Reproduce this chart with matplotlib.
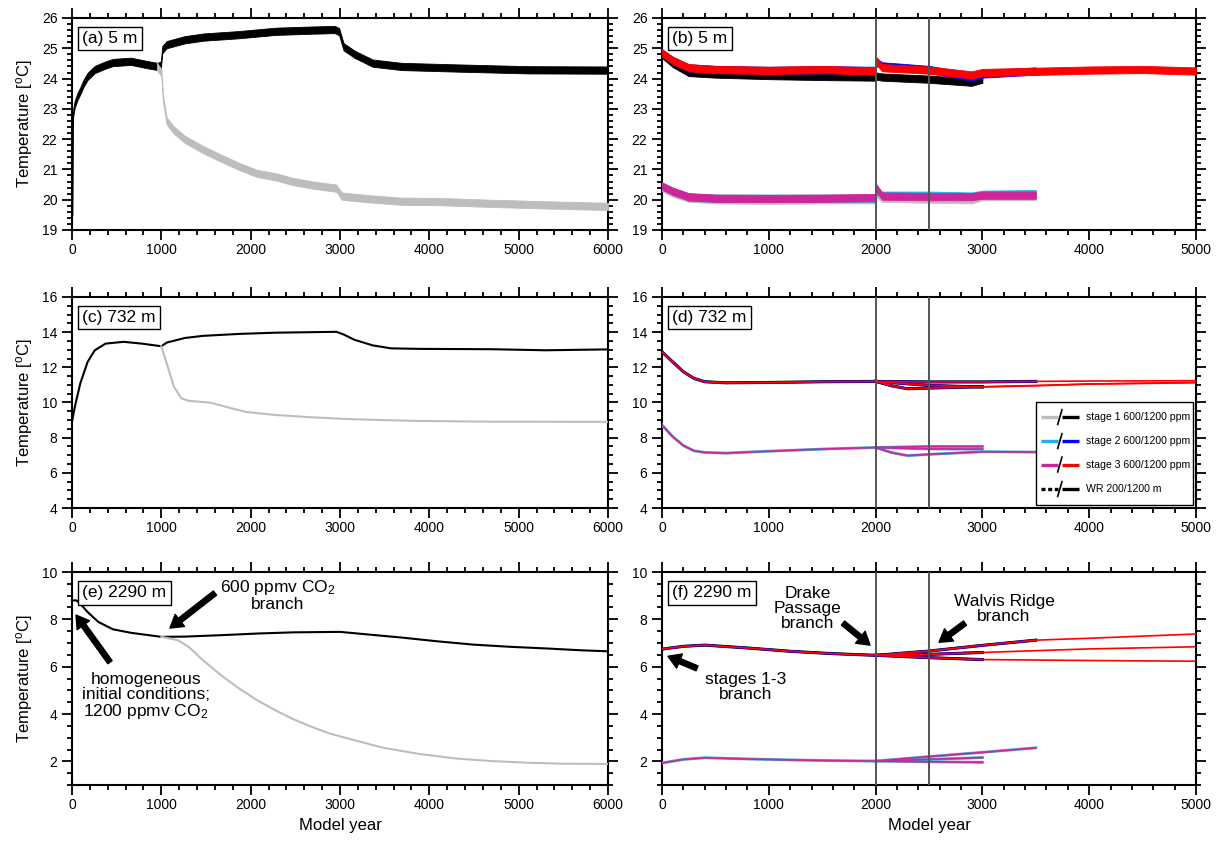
import numpy as np
import matplotlib
matplotlib.use('Agg')
import matplotlib.pyplot as plt
from matplotlib.ticker import MultipleLocator
from matplotlib.patches import Rectangle

plt.rcParams['font.family'] = ['Liberation Sans', 'DejaVu Sans']
plt.rcParams['mathtext.fontset'] = 'custom'
plt.rcParams['mathtext.rm'] = 'Liberation Sans'
plt.rcParams['mathtext.it'] = 'Liberation Sans:italic'

# ---------------- colours ----------------
C_GRY, C_BLK = '#bdbdbd', '#000000'
C_LBL, C_BLU = '#1eb0e8', '#0000ff'
C_PNK, C_RED = '#d0259a', '#ff0000'
C_VLINE = '#555555'

# ---------------- panel (a) 5 m ----------------
a_blk_yrs = [0, 5, 15, 30, 60, 93, 130, 174, 255, 376, 457, 660, 860, 960, 995, 1010, 1060, 1260,
             1470, 1870, 2275, 2680, 2940, 2990, 3040, 3165, 3365, 3690, 4295, 5100, 6000]
a_blk = [19.5, 22.6, 22.9, 23.15, 23.4, 23.6, 23.85, 24.07, 24.3, 24.45, 24.53, 24.57, 24.45, 24.4,
         24.45, 24.95, 25.12, 25.28, 25.37, 25.45, 25.56, 25.6, 25.62, 25.55, 25.05, 24.8, 24.51,
         24.4, 24.35, 24.29, 24.28]
a_gry_yrs = [950, 1000, 1020, 1060, 1140, 1260, 1470, 1670, 1870, 2070, 2275, 2475, 2680, 2960,
             3020, 3285, 3690, 4090, 4700, 5300, 6000]
a_gry = [24.4, 24.2, 23.3, 22.6, 22.3, 22.0, 21.65, 21.37, 21.1, 20.87, 20.76, 20.6, 20.49, 20.38,
         20.12, 20.04, 19.95, 19.94, 19.88, 19.83, 19.78]
a_noise = 0.12

# ---------------- panel (c) 732 m ----------------
c_blk_yrs = [0, 32, 93, 174, 255, 376, 578, 780, 1000, 1062, 1264, 1467, 1870, 2275, 2680, 2960,
             3040, 3160, 3365, 3570, 3890, 4700, 5300, 6000]
c_blk = [8.9, 9.76, 11.09, 12.3, 12.97, 13.35, 13.45, 13.35, 13.2, 13.41, 13.67, 13.79, 13.9, 13.97,
         14.0, 14.02, 13.87, 13.57, 13.25, 13.08, 13.05, 13.03, 12.97, 13.02]
c_gry_yrs = [1000, 1062, 1140, 1225, 1305, 1548, 1750, 1950, 2275, 2680, 3080, 3485, 3890, 4700, 6000]
c_gry = [13.2, 12.2, 10.9, 10.23, 10.1, 9.99, 9.72, 9.46, 9.29, 9.16, 9.06, 9.0, 8.95, 8.91, 8.9]

# ---------------- panel (e) 2290 m ----------------
e_blk_yrs = [0, 50, 93, 174, 295, 457, 660, 940, 1000, 1264, 1668, 2073, 2477, 3002, 3285, 3690,
             4093, 4497, 4901, 5305, 5709, 6000]
e_blk = [8.8, 8.8, 8.66, 8.31, 7.89, 7.58, 7.43, 7.29, 7.26, 7.27, 7.33, 7.4, 7.45, 7.47, 7.37,
         7.23, 7.07, 6.93, 6.84, 6.77, 6.69, 6.65]
e_gry_yrs = [1000, 1184, 1305, 1467, 1668, 1870, 2073, 2275, 2477, 2680, 2880, 3083, 3487, 3891,
             4295, 4700, 5104, 5508, 6000]
e_gry = [7.26, 7.12, 6.84, 6.27, 5.64, 5.08, 4.58, 4.16, 3.78, 3.46, 3.18, 2.97, 2.57, 2.31, 2.12,
         2.01, 1.94, 1.9, 1.89]

# ---------------- panel (b) 5 m, stages ----------------
b_yrs = [0, 100, 250, 500, 1000, 1500, 1995, 2010, 2060, 2500, 2900, 3000, 3500, 4000, 4500, 5000]
b_red = [24.85, 24.6, 24.36, 24.3, 24.27, 24.3, 24.25, 24.58, 24.36, 24.28, 24.12, 24.2, 24.24,
         24.28, 24.3, 24.25]
b_blk = [24.8, 24.5, 24.2, 24.15, 24.1, 24.07, 24.05, 24.08, 24.05, 23.98, 23.88, 23.98]
b_blu = [24.85, 24.6, 24.35, 24.3, 24.27, 24.29, 24.27, 24.55, 24.42, 24.3, 24.05, 24.15, 24.25]
b_gry = [20.4, 20.22, 20.05, 20.0, 19.98, 20.0, 20.0, 20.2, 20.05, 20.02, 20.0, 20.1, 20.1]
b_lbl = [20.45, 20.28, 20.08, 20.05, 20.05, 20.05, 20.05, 20.3, 20.15, 20.15, 20.12, 20.18, 20.2]
b_pnk = [20.45, 20.28, 20.1, 20.05, 20.04, 20.05, 20.07, 20.38, 20.12, 20.1, 20.1, 20.15, 20.15]
b_noise = 0.12

# ---------------- panel (d) 732 m, stages ----------------
d_base_yrs = [0, 100, 200, 300, 400, 600, 1000, 1500, 2000]
d_hi_base = [12.88, 12.31, 11.75, 11.37, 11.18, 11.12, 11.14, 11.18, 11.2]
d_lo_base = [8.72, 8.06, 7.55, 7.25, 7.16, 7.12, 7.23, 7.35, 7.44]
d_hi_u_yrs = [2000, 2500, 3000, 3500, 4000, 5000]
d_hi_u = [11.2, 11.17, 11.17, 11.2, 11.22, 11.24]
d_hi_m_yrs = [2000, 2150, 2300, 2500, 3000, 3500, 4000, 5000]
d_hi_m = [11.2, 10.95, 10.78, 10.82, 10.9, 10.97, 11.05, 11.12]
d_hi_l_yrs = [2000, 2500, 3000, 3500, 4000, 5000]
d_hi_l = [11.2, 10.97, 10.88, 10.95, 11.05, 11.15]
d_lo_u_yrs = [2000, 2500, 3000]
d_lo_u = [7.44, 7.5, 7.5]
d_lo_m_yrs = [2000, 2150, 2300, 2500, 3000, 3500]
d_lo_m = [7.44, 7.15, 6.98, 7.05, 7.2, 7.18]
d_lo_l_yrs = [2000, 2500, 3000]
d_lo_l = [7.44, 7.36, 7.35]

# ---------------- panel (f) 2290 m, stages ----------------
f_base_yrs = [0, 200, 400, 800, 1200, 1600, 2000]
f_hi_base = [6.74, 6.86, 6.91, 6.79, 6.65, 6.55, 6.48]
f_lo_base = [1.93, 2.08, 2.15, 2.1, 2.06, 2.03, 2.01]
f_hi_u_yrs = [2000, 2500, 3000, 3500, 4000, 5000]
f_hi_u = [6.48, 6.66, 6.9, 7.12, 7.2, 7.38]
f_hi_m_yrs = [2000, 2500, 3000, 4000, 5000]
f_hi_m = [6.48, 6.52, 6.6, 6.75, 6.84]
f_hi_l_yrs = [2000, 2500, 3000, 4000, 5000]
f_hi_l = [6.48, 6.38, 6.3, 6.26, 6.23]
f_lo_u_yrs = [2000, 2500, 3000, 3500]
f_lo_u = [2.01, 2.2, 2.38, 2.57]
f_lo_m_yrs = [2000, 2500, 3000]
f_lo_m = [2.01, 2.08, 2.16]
f_lo_l_yrs = [2000, 2500, 3000]
f_lo_l = [2.01, 1.98, 1.96]

# run end years per stage (upper, middle, lower branch)
ends_dark = {'k': [3500, 3000, 3000], 'b': [3500, 3000, 3000], 'r': [5000, 5000, 5000]}
ends_light = [3500, 3500, 3000]

branch_years = [2000, 2500]

legend_labels = ['stage 1 600/1200 ppm', 'stage 2 600/1200 ppm', 'stage 3 600/1200 ppm', 'WR 200/1200 m']
legend_light = [C_GRY, C_LBL, C_PNK, 'k']
legend_dark = [C_BLK, C_BLU, C_RED, 'k']

# ---------------- figure ----------------
W, H = 1218, 847
fig = plt.figure(figsize=(W / 100, H / 100), dpi=100)


def add_ax(l, t, r, b):
    return fig.add_axes([l / W, 1 - b / H, (r - l) / W, (b - t) / H])


ax_a = add_ax(72, 18, 608, 230)
ax_b = add_ax(662, 18, 1196, 230)
ax_c = add_ax(72, 297, 608, 508)
ax_d = add_ax(662, 297, 1196, 508)
ax_e = add_ax(72, 572, 608, 785)
ax_f = add_ax(662, 572, 1196, 785)


def style(ax, xmax, ylim, ymaj, ymin):
    ax.set_xlim(0, xmax)
    ax.set_ylim(*ylim)
    ax.xaxis.set_major_locator(MultipleLocator(1000))
    ax.xaxis.set_minor_locator(MultipleLocator(200))
    ax.yaxis.set_major_locator(MultipleLocator(ymaj))
    ax.yaxis.set_minor_locator(MultipleLocator(ymin))
    ax.tick_params(which='both', direction='out', top=True, right=True, width=1.3, labelsize=10)
    ax.tick_params(which='major', length=7.5)
    ax.tick_params(which='minor', length=3.5)
    ax.tick_params(axis='x', pad=2)
    ax.tick_params(axis='y', pad=3)
    for s in ax.spines.values():
        s.set_linewidth(1.5)


def label_box(ax, txt):
    ax.text(0.019, 0.903, txt, transform=ax.transAxes, ha='left', va='center', fontsize=12.5,
            bbox=dict(boxstyle='square,pad=0.25', fc='white', ec='black', lw=1.0), zorder=20)


def band(ax, x, y, amp, color, z):
    y = np.asarray(y, dtype=float)
    ax.fill_between(x, y - amp, y + amp, color=color, lw=0.6, ec=color, zorder=z)


def clip(x, y, end):
    x = np.asarray(x)
    y = np.asarray(y)
    m = x <= end
    return x[m], y[m]


style(ax_a, 6000, (19, 26), 1, 0.2)
style(ax_b, 5000, (19, 26), 1, 0.2)
style(ax_c, 6000, (4, 16), 2, 0.5)
style(ax_d, 5000, (4, 16), 2, 0.5)
style(ax_e, 6000, (1, 10), 2, 0.5)
style(ax_f, 5000, (1, 10), 2, 0.5)

# --- (a)
band(ax_a, a_blk_yrs, a_blk, a_noise, C_BLK, 3)
ax_a.plot(a_blk_yrs[:2], a_blk[:2], color=C_BLK, lw=2, zorder=3)
band(ax_a, a_gry_yrs, a_gry, a_noise, C_GRY, 4)
label_box(ax_a, '(a) 5 m')

# --- (c)
ax_c.plot(c_blk_yrs, c_blk, color=C_BLK, lw=1.5, zorder=3)
ax_c.plot(c_gry_yrs, c_gry, color=C_GRY, lw=1.5, zorder=4)
label_box(ax_c, '(c) 732 m')

# --- (e)
ax_e.plot(e_blk_yrs, e_blk, color=C_BLK, lw=1.5, zorder=3)
ax_e.plot(e_gry_yrs, e_gry, color=C_GRY, lw=1.5, zorder=4)
label_box(ax_e, '(e) 2290 m')

# --- (b)
n_blk = len(b_blk)
n_blu = len(b_blu)
band(ax_b, b_yrs[:n_blk], b_blk, b_noise, C_BLK, 3)
band(ax_b, b_yrs[:n_blu], b_blu, b_noise, C_BLU, 4)
band(ax_b, b_yrs, b_red, b_noise, C_RED, 5)
n_lo = len(b_pnk)
band(ax_b, b_yrs[:n_lo], b_gry, b_noise, C_GRY, 3)
band(ax_b, b_yrs[:n_lo], b_lbl, b_noise, C_LBL, 4)
band(ax_b, b_yrs[:n_lo], b_pnk, b_noise, C_PNK, 5)
label_box(ax_b, '(b) 5 m')


# --- (d), (f) smooth stage runs
def draw_stages(ax, base_yrs, hi_base, lo_base, hi_runs, lo_runs):
    dark = [('k', C_BLK, 2.2, 3), ('b', C_BLU, 1.7, 4), ('r', C_RED, 1.2, 5)]
    light = [(C_GRY, 2.2, 3), (C_LBL, 1.7, 4), (C_PNK, 1.2, 5)]
    for key, col, lw, z in dark:
        ax.plot(base_yrs, hi_base, color=col, lw=lw, zorder=z)
        for (xs, ys), end in zip(hi_runs, ends_dark[key]):
            x, y = clip(xs, ys, end)
            ax.plot(x, y, color=col, lw=lw, zorder=z)
    for col, lw, z in light:
        ax.plot(base_yrs, lo_base, color=col, lw=lw, zorder=z)
        for (xs, ys), end in zip(lo_runs, ends_light):
            x, y = clip(xs, ys, end)
            ax.plot(x, y, color=col, lw=lw, zorder=z)


draw_stages(ax_d, d_base_yrs, d_hi_base, d_lo_base,
            [(d_hi_u_yrs, d_hi_u), (d_hi_m_yrs, d_hi_m), (d_hi_l_yrs, d_hi_l)],
            [(d_lo_m_yrs, d_lo_m), (d_lo_u_yrs, d_lo_u), (d_lo_l_yrs, d_lo_l)])
draw_stages(ax_f, f_base_yrs, f_hi_base, f_lo_base,
            [(f_hi_u_yrs, f_hi_u), (f_hi_m_yrs, f_hi_m), (f_hi_l_yrs, f_hi_l)],
            [(f_lo_u_yrs, f_lo_u), (f_lo_m_yrs, f_lo_m), (f_lo_l_yrs, f_lo_l)])
label_box(ax_d, '(d) 732 m')
label_box(ax_f, '(f) 2290 m')

for ax in (ax_b, ax_d, ax_f):
    for by in branch_years:
        ax.axvline(by, color=C_VLINE, lw=1.4, zorder=10)

# --- legend in (d)
lx0, ly0, lx1, ly1 = 0.700, 0.012, 0.994, 0.502
ax_d.add_patch(Rectangle((lx0, ly0), lx1 - lx0, ly1 - ly0, transform=ax_d.transAxes,
                         fc='white', ec='black', lw=1.0, zorder=15))
row_y = [0.431, 0.317, 0.206, 0.090]
for yy, lab, cl, cd, i in zip(row_y, legend_labels, legend_light, legend_dark, range(4)):
    ls = (0, (1.2, 0.8)) if i == 3 else '-'
    ax_d.plot([0.710, 0.741], [yy, yy], transform=ax_d.transAxes, color=cl, lw=2.4, ls=ls,
              zorder=16, solid_capstyle='butt')
    ax_d.plot([0.749, 0.781], [yy, yy], transform=ax_d.transAxes, color=cd, lw=2.4,
              zorder=16, solid_capstyle='butt')
    ax_d.plot([0.741, 0.749], [yy - 0.035, yy + 0.035], transform=ax_d.transAxes, color='k',
              lw=1.2, zorder=16)
    ax_d.text(0.794, yy, lab, transform=ax_d.transAxes, ha='left', va='center', fontsize=7.6,
              zorder=16)

# --- annotations
arrow_kw = dict(facecolor='black', edgecolor='black', width=3.8, headwidth=11, headlength=9,
                shrink=0)
txt_kw = dict(ha='center', va='center', fontsize=12.5, linespacing=1.0)

ax_e.annotate('', xy=(1097, 7.63), xytext=(1601, 9.11), arrowprops=arrow_kw, zorder=12)
ax_e.text(2307, 9.03, '600 ppmv CO$_{\\mathregular{2}}$\nbranch', **txt_kw)
ax_e.annotate('', xy=(45, 8.18), xytext=(425, 6.19), arrowprops=arrow_kw, zorder=12)
ax_e.text(829, 4.75, 'homogeneous\ninitial conditions;\n1200 ppmv CO$_{\\mathregular{2}}$', **txt_kw)

ax_f.annotate('', xy=(1948, 6.91), xytext=(1695, 7.84), arrowprops=arrow_kw, zorder=12)
ax_f.text(1367, 8.47, 'Drake\nPassage\nbranch', **txt_kw)
ax_f.annotate('', xy=(2594, 7.03), xytext=(2837, 7.84), arrowprops=arrow_kw, zorder=12)
ax_f.text(3202, 8.43, 'Walvis Ridge\nbranch', **txt_kw)
ax_f.annotate('', xy=(56, 6.44), xytext=(328, 5.93), arrowprops=arrow_kw, zorder=12)
ax_f.text(787, 5.13, 'stages 1-3\nbranch', **txt_kw)

# --- axis labels
for ax in (ax_a, ax_c, ax_e):
    ax.set_ylabel('Temperature [$^{\\mathregular{o}}$C]', fontsize=12, labelpad=5)
for ax in (ax_e, ax_f):
    ax.set_xlabel('Model year', fontsize=12, labelpad=4)

fig.savefig('out.png', dpi=100, facecolor='white')
